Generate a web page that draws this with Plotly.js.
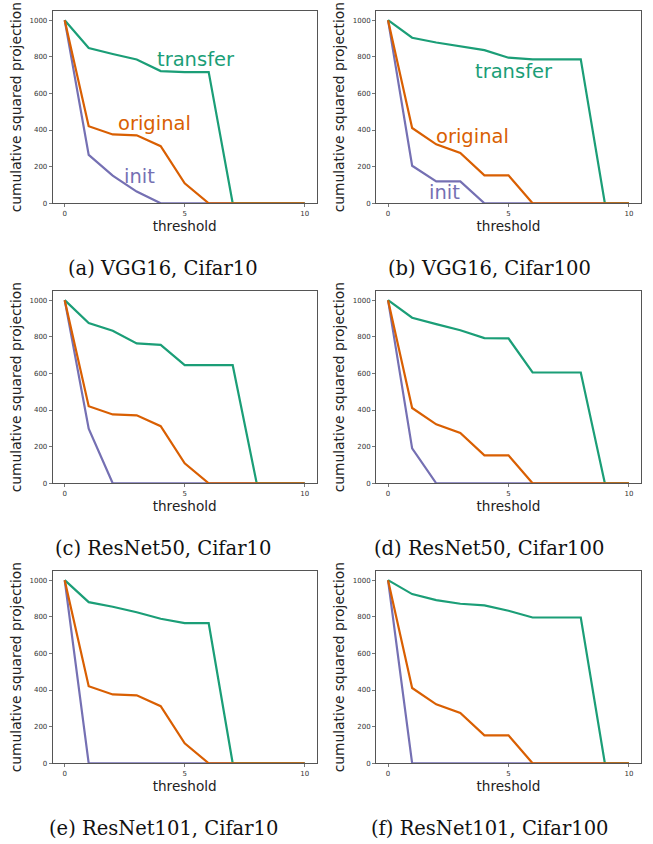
<!DOCTYPE html>
<html>
<head>
<meta charset="utf-8">
<script src="https://cdn.plot.ly/plotly-3.0.1.min.js"></script>
<style>html,body{margin:0;padding:0;background:#fff;}#chart{width:653px;height:844px;}</style>
</head>
<body>
<div id="chart"></div>
<script>
// ---- data ----
const thresholds = [0, 1, 2, 3, 4, 5, 6, 7, 8, 9, 10];

const captions = [
  "(a) VGG16, Cifar10", "(b) VGG16, Cifar100",
  "(c) ResNet50, Cifar10", "(d) ResNet50, Cifar100",
  "(e) ResNet101, Cifar10", "(f) ResNet101, Cifar100"
];

const seriesNames = ["init", "transfer", "original"];

// (a) VGG16, Cifar10
const vgg16C10Transfer = [1000, 848, 815, 785, 722, 716, 716, 0, 0, 0, 0];
const vgg16C10Original = [1000, 421, 376, 371, 312, 109, 0, 0, 0, 0, 0];
const vgg16C10Init     = [1000, 264, 151, 64, 0, 0, 0, 0, 0, 0, 0];
// (b) VGG16, Cifar100
const vgg16C100Transfer = [1000, 904, 878, 858, 836, 795, 786, 786, 786, 0, 0];
const vgg16C100Original = [1000, 411, 322, 275, 153, 153, 0, 0, 0, 0, 0];
const vgg16C100Init     = [1000, 205, 120, 120, 0, 0, 0, 0, 0, 0, 0];
// (c) ResNet50, Cifar10
const res50C10Transfer = [1000, 875, 833, 764, 756, 645, 645, 645, 0, 0, 0];
const res50C10Original = [1000, 421, 376, 371, 312, 109, 0, 0, 0, 0, 0];
const res50C10Init     = [1000, 298, 0, 0, 0, 0, 0, 0, 0, 0, 0];
// (d) ResNet50, Cifar100
const res50C100Transfer = [1000, 904, 869, 836, 793, 791, 605, 605, 605, 0, 0];
const res50C100Original = [1000, 411, 322, 275, 153, 153, 0, 0, 0, 0, 0];
const res50C100Init     = [1000, 191, 0, 0, 0, 0, 0, 0, 0, 0, 0];
// (e) ResNet101, Cifar10
const res101C10Transfer = [1000, 880, 855, 825, 789, 765, 765, 0, 0, 0, 0];
const res101C10Original = [1000, 421, 376, 371, 312, 109, 0, 0, 0, 0, 0];
const res101C10Init     = [1000, 0, 0, 0, 0, 0, 0, 0, 0, 0, 0];
// (f) ResNet101, Cifar100
const res101C100Transfer = [1000, 924, 891, 871, 862, 833, 796, 796, 796, 0, 0];
const res101C100Original = [1000, 411, 322, 275, 153, 153, 0, 0, 0, 0, 0];
const res101C100Init     = [1000, 0, 0, 0, 0, 0, 0, 0, 0, 0, 0];

const yTickVals = [0, 200, 400, 600, 800, 1000];
const xTickVals = [0, 5, 10];

// ---- build ----
const panels = [
  [vgg16C10Init, vgg16C10Transfer, vgg16C10Original],
  [vgg16C100Init, vgg16C100Transfer, vgg16C100Original],
  [res50C10Init, res50C10Transfer, res50C10Original],
  [res50C100Init, res50C100Transfer, res50C100Original],
  [res101C10Init, res101C10Transfer, res101C10Original],
  [res101C100Init, res101C100Transfer, res101C100Original]
];
const colors = {init: "#7570b3", transfer: "#1b9e77", original: "#d95f02"};

const W = 653, H = 844;
const colX = [[52.7, 316.7], [376, 641]];
const rowY = [[11, 203.3], [291, 483.3], [571, 763.3]];
const captionY = [268, 548, 828];
const captionX = [163, 489];

const traces = [];
const layout = {
  width: W, height: H,
  margin: {l: 0, r: 0, t: 0, b: 0},
  paper_bgcolor: "#ffffff", plot_bgcolor: "#ffffff",
  showlegend: false,
  font: {family: "DejaVu Sans", color: "#222"},
  annotations: []
};

panels.forEach((p, i) => {
  const k = i + 1;
  const xa = k === 1 ? "x" : "x" + k;
  const ya = k === 1 ? "y" : "y" + k;
  const col = i % 2, row = Math.floor(i / 2);
  seriesNames.forEach((name, j) => {
    traces.push({
      x: thresholds, y: p[j], type: "scatter", mode: "lines",
      name: name, xaxis: xa, yaxis: ya,
      line: {color: colors[name], width: 2.2}
    });
  });
  const axCommon = {
    showline: true, mirror: true, linecolor: "#555", linewidth: 1,
    ticks: "outside", ticklen: 3, tickcolor: "#555", tickwidth: 0.8,
    showgrid: false, zeroline: false,
    tickfont: {size: 7, family: "DejaVu Sans", color: "#333"}
  };
  layout[k === 1 ? "xaxis" : "xaxis" + k] = Object.assign({}, axCommon, {
    domain: [colX[col][0] / W, colX[col][1] / W],
    anchor: ya, range: [-0.5, 10.5],
    tickmode: "array", tickvals: xTickVals,
    title: {text: "threshold", font: {size: 13.6, family: "DejaVu Sans", color: "#222"}, standoff: 2}
  });
  layout[k === 1 ? "yaxis" : "yaxis" + k] = Object.assign({}, axCommon, {
    domain: [1 - rowY[row][1] / H, 1 - rowY[row][0] / H],
    anchor: xa, range: [0, 1050],
    tickmode: "array", tickvals: yTickVals,
    title: {text: "cumulative squared projection", font: {size: 13.8, family: "DejaVu Sans", color: "#222"}, standoff: 4}
  });
  layout.annotations.push({
    text: captions[i], xref: "paper", yref: "paper",
    x: captionX[col] / W, y: 1 - captionY[row] / H,
    xanchor: "center", yanchor: "middle", showarrow: false,
    font: {family: "DejaVu Serif", size: 19.5, color: "#111"}
  });
});

// in-plot series labels for the top row
const labelPos = [
  {ax: "", name: "transfer", x: 5.48, y: 787},
  {ax: "", name: "original", x: 3.74, y: 436},
  {ax: "", name: "init", x: 3.13, y: 145},
  {ax: "2", name: "transfer", x: 5.23, y: 718},
  {ax: "2", name: "original", x: 3.51, y: 367},
  {ax: "2", name: "init", x: 2.33, y: 58}
];
labelPos.forEach(l => {
  layout.annotations.push({
    text: l.name, xref: "x" + l.ax, yref: "y" + l.ax, x: l.x, y: l.y,
    xanchor: "center", yanchor: "middle", showarrow: false,
    font: {family: "DejaVu Sans", size: 19.5, color: colors[l.name]}
  });
});

Plotly.newPlot("chart", traces, layout, {displayModeBar: false, staticPlot: true});
</script>
</body>
</html>
